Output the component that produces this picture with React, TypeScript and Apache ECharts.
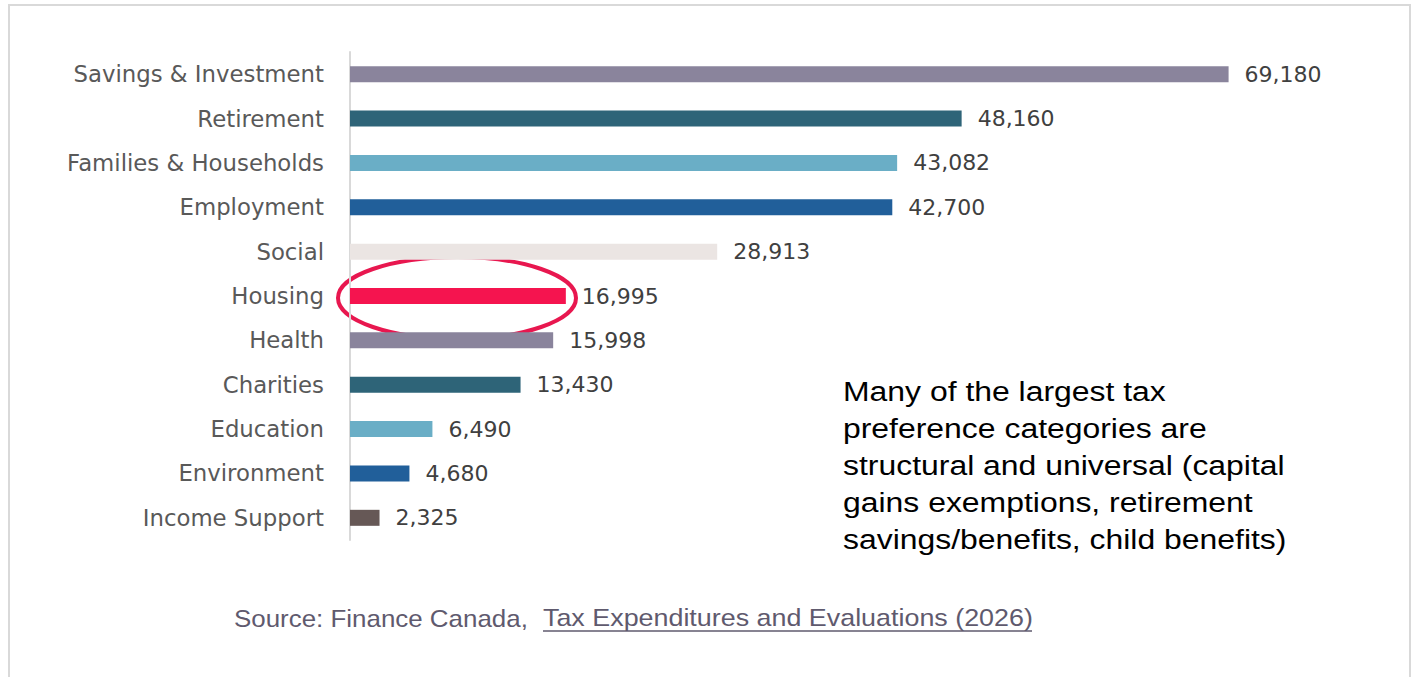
import React, { useEffect, useRef } from "react";
import * as echarts from "echarts";

const categories = [
  "Savings & Investment",
  "Retirement",
  "Families & Households",
  "Employment",
  "Social",
  "Housing",
  "Health",
  "Charities",
  "Education",
  "Environment",
  "Income Support",
];
const values = [69180, 48160, 43082, 42700, 28913, 16995, 15998, 13430, 6490, 4680, 2325];
const barColors = [
  "#8a849c",
  "#2e6478",
  "#6aaec6",
  "#215f9a",
  "#ebe5e3",
  "#f5144f",
  "#8a849c",
  "#2e6478",
  "#6aaec6",
  "#215f9a",
  "#665856",
];
const noteLines = [
  "Many of the largest tax",
  "preference categories are",
  "structural and universal (capital",
  "gains exemptions, retirement",
  "savings/benefits, child benefits)",
];
const sourcePrefix = "Source: Finance Canada, ";
const sourceLink = "Tax Expenditures and Evaluations (2026)";

export default function App() {
  const ref = useRef<HTMLDivElement>(null);
  useEffect(() => {
    if (!ref.current) return;
    const chart = echarts.init(ref.current, null, { renderer: "svg" });
    const option: any = {
      animation: false,
      backgroundColor: "#ffffff",
      grid: { left: 350, right: 50, top: 52, bottom: 137, containLabel: false },
      xAxis: {
        type: "value",
        min: 0,
        max: 80000,
        show: false,
      },
      yAxis: {
        type: "category",
        inverse: true,
        data: categories,
        axisLine: { show: true, lineStyle: { color: "#d9d9d9", width: 2 } },
        axisTick: { show: false },
        axisLabel: {
          color: "#595959",
          fontSize: 22.8,
          fontFamily: "DejaVu Sans",
          margin: 26,
        },
      },
      series: [
        {
          type: "bar",
          data: values.map((v, i) => ({ value: v, itemStyle: { color: barColors[i] } })),
          barWidth: 16,
          label: {
            show: true,
            position: "right",
            distance: 16,
            color: "#404040",
            fontSize: 22,
            fontFamily: "DejaVu Sans",
            formatter: (p: any) => Number(p.value).toLocaleString("en-US"),
          },
        },
      ],
      graphic: [
        {
          type: "rect",
          shape: { x: 9, y: 5, width: 1401, height: 700 },
          style: { fill: "none", stroke: "#d9d9d9", lineWidth: 2 },
          silent: true,
        },
        {
          type: "ellipse",
          shape: { cx: 457, cy: 298, rx: 119, ry: 41 },
          style: { fill: "none", stroke: "#e8174f", lineWidth: 4 },
          silent: true,
        },
        ...noteLines.map((t, i) => ({
          type: "text",
          x: 843,
          y: 391 + i * 37,
          scaleX: 1.14,
          style: {
            text: t,
            fill: "#000000",
            fontSize: 28,
            fontFamily: "Liberation Sans",
            verticalAlign: "middle",
          },
        })),
        {
          type: "text",
          x: 234,
          y: 618,
          scaleX: 1.08,
          style: {
            text: sourcePrefix,
            fill: "#5f5a6e",
            fontSize: 24,
            fontFamily: "Liberation Sans",
            verticalAlign: "middle",
          },
        },
        {
          type: "text",
          x: 543,
          y: 618,
          scaleX: 1.12,
          style: {
            text: sourceLink,
            fill: "#5f5a6e",
            fontSize: 24,
            fontFamily: "Liberation Sans",
            verticalAlign: "middle",
          },
        },
        {
          type: "line",
          shape: { x1: 543, y1: 631, x2: 1032, y2: 631 },
          style: { stroke: "#5f5a6e", lineWidth: 1.5 },
        },
      ],
    };
    chart.setOption(option);
    return () => chart.dispose();
  }, []);
  return (
    <div
      ref={ref}
      style={{ position: "fixed", left: 0, top: 0, width: 1416, height: 677 }}
    />
  );
}
